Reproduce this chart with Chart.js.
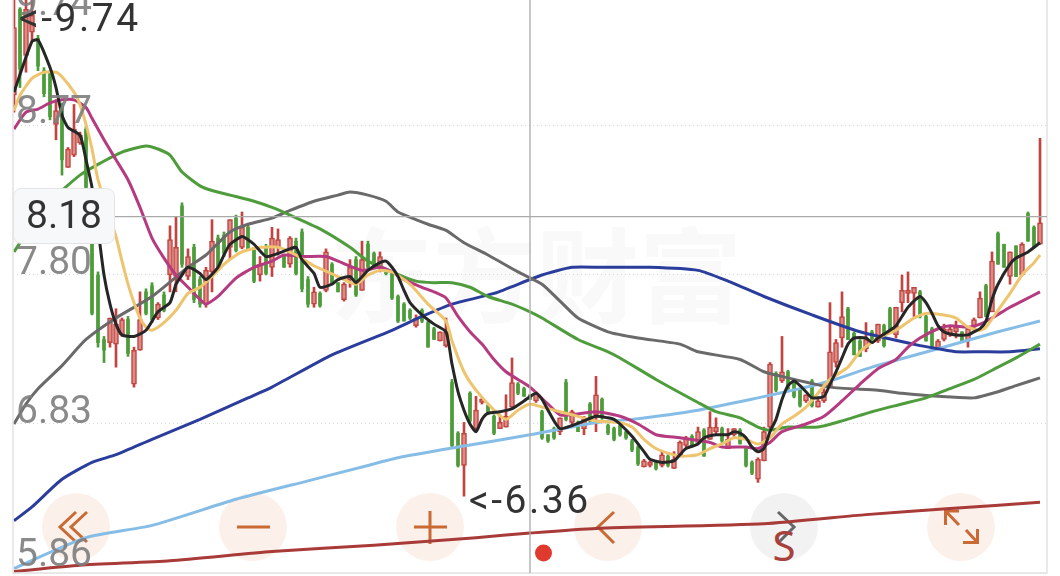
<!DOCTYPE html>
<html lang="zh">

<head>
    <meta charset="UTF-8">
    <title>K线</title>
    <script src="https://cdn.jsdelivr.net/npm/chart.js"></script>
    <style>
        html, body {
            margin: 0;
            width: 1060px;
            height: 576px;
            overflow: hidden;
            background: #fff;
        }

        .layer {
            position: absolute;
            left: 0;
            top: 0;
        }

        .watermark {
            position: absolute;
            left: 330px;
            top: 196px;
            font: bold 103px "Noto Sans CJK SC", sans-serif;
            color: #f9f9f9;
            white-space: nowrap;
        }
    </style>
</head>

<body>
<div class="watermark">东方财富</div>

<!-- 底部按钮 -->
<svg class="layer" width="1060" height="576" fill="none" stroke="#c96a35" stroke-width="3">
    <g stroke="none" fill="#fbf1ea">
        <circle cx="76" cy="527" r="34"></circle>
        <circle cx="253" cy="527" r="34"></circle>
        <circle cx="430" cy="527" r="34"></circle>
        <circle cx="608" cy="527" r="34"></circle>
        <circle cx="961" cy="527" r="34"></circle>
    </g>
    <circle cx="784" cy="527" r="34" stroke="none" fill="#f2f2f2"></circle>
    <path d="M76 512 L60 527 L76 542 M87 512 L71 527 L87 542"></path>
    <path d="M237 527 H270"></path>
    <path d="M414 527 H447 M430 511 V544"></path>
    <path d="M614 512 L598 527 L614 543"></path>
    <path d="M778 512 L794 527 L778 543" stroke="#666"></path>
    <path d="M959 511 H945.5 V525 M945.5 511 L959 525 M977.5 529 V542.5 H963 M966 530 L977.5 542.5"></path>
    <circle cx="543.5" cy="553" r="8.5" stroke="none" fill="#e03a2f"></circle>
    <text x="784" y="561" text-anchor="middle" stroke="none" fill="#a8403c"
          style="font: 42px 'Noto Sans', sans-serif">S</text>
</svg>

<canvas id="kline" class="layer" width="1060" height="576"></canvas>

<script>
    const opens = [8.97,9.53,9.23,9.38,9.34,9.13,9.11,8.78,8.90,8.50,
        8.58,8.66,8.75,8.28,7.80,7.38,7.36,7.35,7.41,7.51,
        7.09,7.31,7.69,7.73,7.52,7.67,7.80,7.79,8.25,7.79,
        7.98,7.77,7.61,7.82,8.04,8.06,7.98,8.17,7.98,8.11,
        7.96,7.80,7.98,7.85,7.98,7.92,7.87,8.02,8.08,7.77,
        7.61,7.68,7.70,7.87,7.75,7.64,7.77,7.90,7.70,8.00,
        7.94,7.85,7.83,7.81,7.66,7.61,7.57,7.47,7.57,7.49,
        7.45,7.37,7.34,7.10,6.77,6.56,7.03,6.80,6.97,6.95,
        6.88,6.80,6.81,6.94,7.09,7.06,7.02,6.98,6.91,6.76,
        6.80,6.78,7.10,6.84,6.84,6.80,6.96,6.89,6.99,6.82,
        6.80,6.82,6.78,6.72,6.68,6.55,6.56,6.58,6.56,6.62,
        6.54,6.63,6.69,6.75,6.71,6.79,6.73,6.78,6.80,6.67,
        6.76,6.79,6.67,6.58,6.47,6.59,6.81,7.16,7.11,7.17,
        7.10,7.05,6.98,7.11,6.94,6.98,7.07,7.23,7.39,7.58,
        7.42,7.37,7.32,7.43,7.37,7.47,7.58,7.41,7.62,7.68,
        7.68,7.69,7.53,7.45,7.32,7.38,7.41,7.43,7.43,7.37,
        7.46,7.52,7.73,7.56,8.07,8.00,7.79,7.99,7.80,8.20,
        8.11,8.00];

    const closes = [9.41,9.14,9.53,9.49,9.16,8.98,8.83,8.87,8.55,8.62,
        8.75,8.71,8.37,7.55,7.36,7.31,7.52,7.48,7.51,7.29,
        7.31,7.51,7.55,7.51,7.61,7.57,8.03,7.98,7.87,7.92,
        7.64,7.61,7.83,8.02,7.85,7.94,8.16,7.96,8.11,7.97,
        7.76,7.87,7.81,8.04,8.03,7.85,8.04,7.81,7.71,7.61,
        7.69,7.60,7.95,7.74,7.69,7.74,7.85,7.67,7.90,7.85,
        7.85,7.92,7.81,7.65,7.50,7.50,7.52,7.52,7.50,7.33,
        7.38,7.43,7.43,6.69,6.56,6.77,6.85,6.92,6.99,6.90,
        6.77,6.84,6.88,7.10,7.03,7.01,6.99,7.03,6.74,6.72,
        6.74,6.87,6.86,6.91,6.78,6.86,6.85,7.02,6.87,6.77,
        6.73,6.76,6.74,6.66,6.57,6.59,6.58,6.54,6.63,6.56,
        6.60,6.71,6.74,6.69,6.78,6.62,6.81,6.81,6.72,6.73,
        6.80,6.70,6.56,6.51,6.60,6.78,7.22,7.05,7.17,7.06,
        7.01,6.95,7.02,6.95,6.98,7.04,7.30,7.36,7.53,7.38,
        7.28,7.27,7.38,7.36,7.48,7.34,7.43,7.59,7.70,7.70,
        7.72,7.53,7.37,7.33,7.37,7.45,7.45,7.46,7.36,7.45,
        7.51,7.65,7.53,7.89,7.87,7.85,7.95,7.79,8.00,8.02,
        7.98,8.14];

    const highs = [9.66,9.54,9.74,9.62,9.36,9.15,9.13,8.94,8.92,8.63,
        8.91,8.73,8.77,8.30,7.82,7.40,7.52,7.58,7.52,7.53,
        7.33,7.69,7.71,7.75,7.62,7.69,8.12,8.18,8.27,7.97,
        8.00,7.79,7.85,8.16,8.06,8.08,8.16,8.19,8.21,8.13,
        7.98,7.92,8.00,8.11,8.10,7.93,8.05,8.04,8.10,7.79,
        7.72,7.69,7.97,7.88,7.75,7.75,7.90,7.92,8.02,8.02,
        7.95,7.95,7.84,7.82,7.67,7.62,7.58,7.54,7.58,7.50,
        7.46,7.43,7.52,7.12,6.78,6.84,7.04,7.01,7.00,6.96,
        6.89,6.89,7.02,7.26,7.10,7.07,7.02,7.04,6.92,6.76,
        6.81,6.87,7.12,6.92,6.85,6.88,6.97,7.14,7.00,6.83,
        6.81,6.83,6.78,6.73,6.69,6.60,6.59,6.58,6.65,6.63,
        6.65,6.72,6.75,6.76,6.81,6.80,6.91,6.87,6.81,6.80,
        6.80,6.80,6.68,6.59,6.61,6.81,7.23,7.17,7.40,7.18,
        7.11,7.06,7.02,7.12,6.99,7.06,7.62,7.38,7.69,7.59,
        7.43,7.38,7.49,7.44,7.48,7.48,7.59,7.59,7.80,7.82,
        7.72,7.70,7.54,7.46,7.38,7.48,7.46,7.50,7.43,7.46,
        7.52,7.69,7.74,7.95,8.08,8.00,7.95,7.99,8.01,8.21,
        8.12,8.69];

    const lows = [8.86,9.02,9.12,9.32,9.13,8.96,8.81,8.68,8.45,8.50,
        8.57,8.65,8.35,7.54,7.33,7.23,7.33,7.20,7.40,7.27,
        7.07,7.31,7.54,7.49,7.51,7.56,7.69,7.69,7.85,7.77,
        7.62,7.59,7.59,7.69,7.83,7.92,7.90,7.95,7.97,7.97,
        7.75,7.76,7.80,7.79,7.93,7.85,7.85,7.80,7.69,7.59,
        7.59,7.59,7.69,7.74,7.69,7.63,7.72,7.66,7.70,7.84,
        7.84,7.82,7.80,7.64,7.49,7.50,7.51,7.46,7.49,7.33,
        7.38,7.37,7.33,6.68,6.55,6.36,6.84,6.78,6.96,6.89,
        6.76,6.80,6.81,6.94,7.02,7.01,6.99,6.97,6.73,6.71,
        6.73,6.76,6.85,6.83,6.78,6.76,6.84,6.78,6.86,6.76,
        6.72,6.75,6.73,6.65,6.56,6.55,6.55,6.53,6.55,6.55,
        6.54,6.62,6.68,6.68,6.71,6.62,6.73,6.76,6.71,6.67,
        6.75,6.70,6.55,6.50,6.45,6.59,6.80,7.04,7.10,7.05,
        7.00,6.94,6.97,6.94,6.94,6.97,7.07,7.20,7.33,7.38,
        7.28,7.27,7.30,7.36,7.36,7.33,7.43,7.39,7.56,7.62,
        7.53,7.52,7.37,7.33,7.32,7.37,7.40,7.39,7.36,7.33,
        7.44,7.52,7.53,7.56,7.87,7.85,7.74,7.79,7.80,8.02,
        7.98,8.00];

    // 均线: [K线序号, 价格]
    const ma5 = [[0,8.99],[3,9.32],[4,9.33],[6,9.15],[7,9.02],[8,8.84],[9,8.76],[11,8.71],[12,8.55],[13,8.37],
        [14,8.10],[15,7.80],[16,7.61],[17,7.48],[18,7.41],[20,7.40],[22,7.44],[24,7.56],[26,7.62],[27,7.74],
        [28,7.80],[29,7.85],[31,7.81],[32,7.77],[34,7.85],[35,7.93],[36,8.00],[38,8.05],[39,8.03],[40,8.00],
        [42,7.92],[44,7.94],[46,7.97],[47,7.98],[48,7.90],[50,7.81],[51,7.72],[53,7.74],[54,7.77],[56,7.79],
        [57,7.75],[59,7.83],[61,7.88],[62,7.89],[63,7.85],[64,7.79],[65,7.70],[66,7.62],[68,7.54],[70,7.48],
        [72,7.43],[73,7.22],[74,7.04],[75,6.92],[76,6.83],[77,6.78],[78,6.86],[79,6.90],[81,6.91],[83,6.93],
        [85,6.98],[87,7.03],[88,6.99],[89,6.92],[90,6.85],[91,6.80],[93,6.82],[95,6.85],[97,6.88],[99,6.87],
        [100,6.86],[101,6.83],[103,6.75],[105,6.65],[106,6.60],[108,6.58],[110,6.59],[111,6.63],[112,6.67],[114,6.70],
        [115,6.74],[117,6.76],[119,6.76],[120,6.78],[121,6.77],[122,6.74],[123,6.68],[124,6.65],[125,6.67],[126,6.78],
        [127,6.86],[128,6.99],[129,7.08],[130,7.11],[131,7.08],[132,7.04],[133,7.00],[135,7.01],[136,7.09],[137,7.17],
        [138,7.26],[139,7.35],[140,7.39],[142,7.39],[143,7.36],[144,7.39],[146,7.44],[147,7.47],[148,7.53],[149,7.59],
        [151,7.66],[152,7.62],[153,7.55],[154,7.47],[155,7.43],[157,7.41],[159,7.41],[160,7.43],[161,7.45],[162,7.50],
        [163,7.64],[164,7.74],[166,7.87],[167,7.91],[169,7.95],[171,8.01]];

    const ma10 = [[0,8.87],[1,8.97],[3,9.08],[5,9.12],[7,9.12],[8,9.09],[10,8.99],[11,8.91],[12,8.78],[13,8.62],
        [14,8.42],[16,8.17],[17,8.05],[18,7.89],[19,7.74],[20,7.62],[21,7.52],[22,7.46],[23,7.44],[25,7.49],
        [27,7.57],[29,7.68],[31,7.72],[33,7.79],[35,7.87],[38,7.95],[41,7.98],[44,7.98],[47,7.93],[50,7.86],
        [54,7.79],[57,7.74],[59,7.80],[61,7.83],[63,7.82],[66,7.74],[69,7.61],[72,7.50],[73,7.37],[75,7.17],
        [77,7.05],[80,6.92],[82,6.86],[84,6.92],[86,6.96],[88,6.94],[91,6.91],[93,6.89],[97,6.85],[101,6.84],
        [103,6.81],[105,6.73],[107,6.67],[109,6.64],[111,6.62],[114,6.63],[116,6.67],[118,6.70],[120,6.74],[122,6.73],
        [124,6.70],[126,6.74],[128,6.83],[130,6.88],[132,6.94],[134,7.03],[136,7.12],[139,7.20],[141,7.30],[144,7.39],
        [147,7.44],[150,7.52],[152,7.55],[155,7.54],[157,7.52],[159,7.46],[161,7.44],[162,7.46],[164,7.57],[166,7.68],
        [168,7.80],[170,7.88],[171,7.93]];

    const ma20 = [[0,8.75],[2,8.86],[4,8.88],[6,8.92],[8,8.94],[10,8.94],[12,8.89],[13,8.82],[15,8.68],[17,8.55],
        [19,8.42],[21,8.24],[23,8.04],[25,7.91],[27,7.80],[29,7.72],[31,7.64],[32,7.61],[34,7.66],[37,7.78],
        [40,7.85],[43,7.89],[45,7.93],[48,7.92],[52,7.92],[54,7.89],[58,7.83],[61,7.85],[63,7.82],[65,7.77],
        [68,7.72],[70,7.69],[72,7.65],[74,7.53],[76,7.43],[78,7.35],[80,7.25],[82,7.17],[84,7.12],[86,7.07],
        [89,6.96],[91,6.89],[93,6.89],[97,6.91],[101,6.88],[104,6.83],[107,6.76],[111,6.74],[116,6.71],[118,6.68],
        [122,6.68],[124,6.67],[126,6.71],[128,6.78],[132,6.83],[135,6.88],[138,6.98],[141,7.09],[144,7.19],[147,7.25],
        [149,7.33],[151,7.39],[154,7.45],[156,7.47],[159,7.46],[161,7.48],[163,7.52],[166,7.59],[168,7.63],[171,7.69]];

    const ma30 = [[0,7.95],[5,8.24],[8,8.35],[11,8.45],[14,8.52],[18,8.60],[22,8.64],[24,8.62],[26,8.58],[28,8.47],
        [31,8.38],[33,8.35],[36,8.32],[40,8.28],[43,8.24],[46,8.19],[51,8.10],[56,7.98],[59,7.89],[63,7.82],
        [67,7.76],[70,7.75],[73,7.75],[76,7.72],[79,7.66],[83,7.61],[86,7.56],[88,7.52],[94,7.38],[99,7.30],
        [101,7.26],[107,7.12],[114,6.97],[117,6.91],[121,6.87],[124,6.81],[126,6.79],[129,6.81],[134,6.81],[138,6.85],
        [143,6.91],[148,6.96],[152,7.00],[156,7.06],[160,7.12],[164,7.20],[167,7.26],[171,7.35]];

    const ma60 = [[0,6.83],[2,6.96],[4,7.06],[8,7.21],[12,7.38],[17,7.52],[23,7.66],[29,7.85],[32,7.93],[36,8.08],
        [39,8.13],[43,8.17],[46,8.22],[50,8.28],[54,8.32],[56,8.34],[59,8.32],[62,8.28],[64,8.21],[67,8.16],
        [69,8.13],[72,8.09],[75,8.01],[79,7.93],[84,7.82],[88,7.74],[91,7.63],[94,7.52],[99,7.43],[104,7.39],
        [111,7.35],[114,7.30],[121,7.25],[125,7.17],[129,7.13],[136,7.07],[144,7.05],[148,7.03],[154,7.01],[160,7.00],
        [164,7.04],[167,7.08],[171,7.13]];

    const ma120 = [[0,6.20],[3,6.29],[8,6.47],[13,6.58],[17,6.63],[23,6.73],[31,6.86],[39,7.00],[43,7.07],[53,7.28],
        [63,7.44],[68,7.53],[73,7.61],[80,7.68],[88,7.80],[93,7.85],[98,7.85],[106,7.85],[114,7.83],[119,7.76],
        [125,7.66],[133,7.54],[141,7.43],[151,7.34],[154,7.32],[157,7.30],[161,7.30],[166,7.30],[171,7.32]];

    const ma250 = [[0,5.89],[12,6.09],[23,6.17],[37,6.34],[49,6.46],[59,6.56],[64,6.61],[74,6.68],[86,6.76],[97,6.84],
        [103,6.86],[114,6.92],[124,7.00],[131,7.06],[136,7.11],[143,7.20],[154,7.32],[164,7.43],[171,7.50]];

    const ma500 = [[0,5.87],[11,5.91],[26,5.94],[43,6.00],[60,6.04],[77,6.09],[86,6.12],[97,6.15],[125,6.18],[142,6.24],
        [156,6.28],[171,6.32]];

    const tickVals = [5.86, 6.83, 7.80, 8.77, 9.74];
    const crossIndex = 86;
    const crossPrice = 8.18;
    const maxLabel = '<-9.74';
    const minLabel = '<-6.36';

    const RED = '#c04440';
    const GREEN = '#4c9c3a';
    const idx = opens.map((v, i) => i);
    const isUp = idx.map(i => closes[i] >= opens[i]);
    const pts = arr => arr.map(p => ({x: p[0], y: p[1]}));
    const line = (arr, color, order) => ({
        type: 'line',
        data: pts(arr),
        borderColor: color,
        borderWidth: 3,
        pointRadius: 0,
        tension: 0.2,
        order: order
    });

    // 刻度文字的位置和十字线
    const overlay = {
        id: 'overlay',
        afterDatasetsDraw(chart) {
            const c = chart.ctx;
            const y = chart.scales.y;
            const x = chart.scales.x;
            const area = chart.chartArea;
            const font = '39px Roboto, sans-serif';

            c.save();
            // 边框
            c.strokeStyle = '#e2e2e2';
            c.lineWidth = 1.5;
            c.beginPath();
            c.moveTo(area.left, 0);
            c.lineTo(area.left, area.bottom);
            c.lineTo(area.right, area.bottom);
            c.lineTo(area.right, 0);
            c.stroke();

            // 十字线
            c.strokeStyle = '#aaa';
            c.lineWidth = 1.3;
            c.beginPath();
            c.moveTo(x.getPixelForValue(crossIndex), 0);
            c.lineTo(x.getPixelForValue(crossIndex), area.bottom);
            c.moveTo(area.left, y.getPixelForValue(crossPrice));
            c.lineTo(area.right, y.getPixelForValue(crossPrice));
            c.stroke();

            // 价格刻度
            const shift = {5.86: -17, 6.83: -11, 7.80: -11, 8.77: -13, 9.74: 28};
            c.font = font;
            c.textBaseline = 'middle';
            c.fillStyle = 'rgba(125,125,125,0.9)';
            tickVals.forEach(v => {
                c.fillText(v.toFixed(2), 16, y.getPixelForValue(v) + shift[v]);
            });

            // 最高最低
            c.fillStyle = '#333';
            c.letterSpacing = '2.5px';
            c.fillText(maxLabel, 19, 21);
            c.fillText(minLabel, 469, 503);
            c.letterSpacing = '0px';

            // 当前价
            c.fillStyle = '#f7f8f9';
            c.strokeStyle = '#e4e4e6';
            c.lineWidth = 1;
            c.beginPath();
            c.roundRect(13.5, 188.5, 101, 55, 8);
            c.fill();
            c.stroke();
            c.fillStyle = '#333';
            c.textAlign = 'center';
            c.fillText(crossPrice.toFixed(2), 64, 218);
            c.restore();
        }
    };

    new Chart(document.getElementById('kline'), {
        type: 'bar',
        data: {
            datasets: [
                line(ma5, '#262626', 1),
                line(ma10, '#eec46e', 2),
                line(ma20, '#b53a80', 3),
                line(ma30, '#4f9c3c', 4),
                line(ma60, '#6a6a6a', 5),
                line(ma120, '#2b3d9c', 6),
                line(ma250, '#86bde6', 7),
                line(ma500, '#a83a38', 8),
                {
                    data: idx.filter(i => isUp[i]).map(i => ({x: i, y: [opens[i], closes[i]]})),
                    backgroundColor: '#dd8a84',
                    borderColor: RED,
                    borderWidth: 1.5,
                    borderSkipped: false,
                    barThickness: 5,
                    grouped: false,
                    order: 9
                },
                {
                    data: idx.filter(i => !isUp[i]).map(i => ({x: i, y: [opens[i], closes[i]]})),
                    backgroundColor: GREEN,
                    barThickness: 3,
                    grouped: false,
                    order: 10
                },
                {
                    data: idx.map(i => ({x: i, y: [lows[i], highs[i]]})),
                    backgroundColor: idx.map(i => isUp[i] ? RED : GREEN),
                    barThickness: 2,
                    grouped: false,
                    order: 11
                }
            ]
        },
        options: {
            responsive: false,
            animation: false,
            events: [],
            layout: {padding: {left: 13, right: 13, top: 0, bottom: 3}},
            plugins: {legend: {display: false}, tooltip: {enabled: false}},
            scales: {
                x: {
                    type: 'linear',
                    display: false,
                    offset: false,
                    min: -1 / 6,
                    max: 1033 / 6
                },
                y: {
                    type: 'linear',
                    min: 5.86,
                    max: 9.59,
                    afterBuildTicks: s => { s.ticks = tickVals.map(v => ({value: v})); },
                    ticks: {display: false},
                    border: {display: false, dash: [1, 3]},
                    grid: {color: '#d8d8d8', drawTicks: false, lineWidth: 1}
                }
            }
        },
        plugins: [overlay]
    });
</script>
</body>

</html>
